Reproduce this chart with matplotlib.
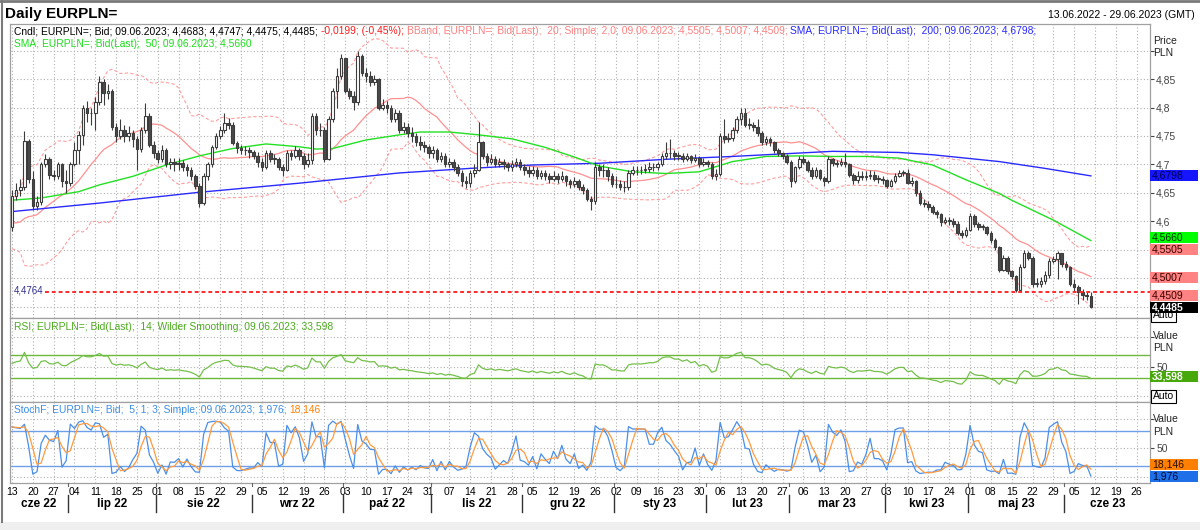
# Daily EURPLN= candles with BBand / SMA, RSI and StochF panels

import numpy as np
import pandas as pd
import matplotlib
matplotlib.use("Agg")
import matplotlib.pyplot as plt
from matplotlib.patches import Rectangle
from matplotlib.lines import Line2D
from matplotlib.transforms import blended_transform_factory

plt.rcParams['font.family'] = ['Liberation Sans', 'DejaVu Sans']

FW, FH = 1200, 530

# closes of the sessions just before 13.06.2022 (only feed the bands / RSI at the left edge)
pre_close = [4.640, 4.630, 4.620, 4.610, 4.600, 4.590, 4.580, 4.575, 4.570, 4.575,
             4.580, 4.575, 4.570, 4.580, 4.590, 4.600, 4.610, 4.600, 4.590]

# daily bars 13.06.2022 - 09.06.2023, one row per two weeks
close = [
    4.645, 4.655, 4.660, 4.742, 4.675,  4.627, 4.633, 4.700, 4.710, 4.682,
    4.680, 4.700, 4.670, 4.667, 4.700,  4.725, 4.752, 4.800, 4.790, 4.790,
    4.810, 4.845, 4.825, 4.830, 4.766,  4.750, 4.760, 4.750, 4.755, 4.745,
    4.727, 4.760, 4.785, 4.735, 4.720,  4.710, 4.725, 4.700, 4.705, 4.700,
    4.703, 4.695, 4.690, 4.680, 4.662,  4.632, 4.680, 4.700, 4.730, 4.750,
    4.760, 4.772, 4.770, 4.738, 4.728,  4.726, 4.725, 4.722, 4.715, 4.705,
    4.696, 4.720, 4.710, 4.710, 4.695,  4.690, 4.720, 4.715, 4.725, 4.715,
    4.700, 4.708, 4.785, 4.760, 4.760,  4.710, 4.780, 4.830, 4.855, 4.887,
    4.830, 4.820, 4.810, 4.890, 4.860,  4.855, 4.845, 4.850, 4.800, 4.805,
    4.800, 4.780, 4.790, 4.760, 4.765,  4.755, 4.750, 4.740, 4.735, 4.730,
    4.720, 4.725, 4.710, 4.715, 4.700,  4.705, 4.695, 4.685, 4.670, 4.668,
    4.685, 4.690, 4.740, 4.715, 4.705,  4.710, 4.700, 4.705, 4.700, 4.695,
    4.700, 4.705, 4.695, 4.690, 4.685,  4.690, 4.680, 4.685, 4.680, 4.675,
    4.680, 4.675, 4.680, 4.670, 4.665,  4.670, 4.660, 4.655, 4.640, 4.635,
    4.695, 4.690, 4.690, 4.680, 4.665,  4.665, 4.660, 4.660, 4.685, 4.690,
    4.690, 4.690, 4.692, 4.695, 4.695,  4.700, 4.715, 4.720, 4.720, 4.715,
    4.715, 4.710, 4.715, 4.708, 4.712,  4.700, 4.705, 4.700, 4.680, 4.684,
    4.750, 4.745, 4.747, 4.760, 4.780,  4.790, 4.770, 4.770, 4.765, 4.755,
    4.740, 4.745, 4.740, 4.726, 4.720,  4.715, 4.705, 4.670, 4.695, 4.710,
    4.705, 4.690, 4.680, 4.690, 4.676,  4.670, 4.710, 4.703, 4.700, 4.705,
    4.700, 4.682, 4.672, 4.680, 4.678,  4.680, 4.682, 4.675, 4.675, 4.672,
    4.662, 4.670, 4.680, 4.685, 4.685,  4.668, 4.670, 4.650, 4.632, 4.630,
    4.625, 4.617, 4.612, 4.598, 4.603,  4.600, 4.596, 4.580, 4.575, 4.585,
    4.610, 4.595, 4.590, 4.590, 4.580,  4.567, 4.555, 4.515, 4.535, 4.513,
    4.503, 4.479, 4.520, 4.545, 4.535,  4.490, 4.490, 4.495, 4.505, 4.530,
    4.533, 4.545, 4.525, 4.520, 4.490,  4.485, 4.476, 4.470, 4.4683, 4.4485,
]
high = [
    4.655, 4.668, 4.675, 4.758, 4.745,  4.688, 4.645, 4.705, 4.718, 4.713,
    4.690, 4.705, 4.702, 4.690, 4.705,  4.740, 4.758, 4.805, 4.812, 4.800,
    4.818, 4.855, 4.850, 4.842, 4.833,  4.772, 4.780, 4.770, 4.768, 4.760,
    4.750, 4.765, 4.808, 4.790, 4.742,  4.725, 4.735, 4.728, 4.712, 4.712,
    4.712, 4.708, 4.700, 4.695, 4.684,  4.668, 4.685, 4.705, 4.735, 4.755,
    4.768, 4.790, 4.782, 4.775, 4.742,  4.735, 4.732, 4.730, 4.725, 4.722,
    4.712, 4.725, 4.725, 4.718, 4.713,  4.700, 4.725, 4.726, 4.732, 4.728,
    4.720, 4.720, 4.790, 4.790, 4.772,  4.765, 4.785, 4.835, 4.870, 4.895,
    4.888, 4.835, 4.830, 4.900, 4.895,  4.870, 4.865, 4.858, 4.852, 4.815,
    4.812, 4.805, 4.798, 4.795, 4.775,  4.772, 4.765, 4.755, 4.750, 4.742,
    4.735, 4.732, 4.728, 4.722, 4.720,  4.712, 4.710, 4.700, 4.690, 4.680,
    4.690, 4.700, 4.775, 4.742, 4.720,  4.718, 4.715, 4.712, 4.710, 4.705,
    4.708, 4.712, 4.710, 4.700, 4.698,  4.698, 4.695, 4.690, 4.690, 4.685,
    4.688, 4.685, 4.688, 4.682, 4.675,  4.678, 4.675, 4.665, 4.658, 4.645,
    4.705, 4.700, 4.700, 4.695, 4.685,  4.680, 4.672, 4.670, 4.690, 4.698,
    4.698, 4.697, 4.700, 4.705, 4.702,  4.705, 4.720, 4.740, 4.745, 4.725,
    4.722, 4.720, 4.720, 4.716, 4.718,  4.714, 4.712, 4.708, 4.705, 4.692,
    4.755, 4.780, 4.755, 4.765, 4.785,  4.800, 4.800, 4.782, 4.775, 4.780,
    4.758, 4.750, 4.748, 4.742, 4.728,  4.722, 4.718, 4.708, 4.698, 4.715,
    4.715, 4.708, 4.695, 4.695, 4.692,  4.680, 4.715, 4.712, 4.708, 4.712,
    4.720, 4.702, 4.685, 4.688, 4.688,  4.688, 4.690, 4.688, 4.682, 4.680,
    4.675, 4.675, 4.685, 4.690, 4.690,  4.692, 4.678, 4.672, 4.655, 4.640,
    4.635, 4.628, 4.620, 4.615, 4.608,  4.608, 4.605, 4.600, 4.585, 4.590,
    4.615, 4.612, 4.598, 4.595, 4.592,  4.582, 4.570, 4.556, 4.540, 4.538,
    4.515, 4.505, 4.525, 4.550, 4.548,  4.538, 4.500, 4.502, 4.512, 4.535,
    4.538, 4.548, 4.545, 4.530, 4.522,  4.498, 4.488, 4.480, 4.478, 4.4747,
]
low = [
    4.583, 4.638, 4.645, 4.655, 4.668,  4.620, 4.620, 4.628, 4.695, 4.675,
    4.672, 4.675, 4.660, 4.649, 4.662,  4.697, 4.700, 4.735, 4.775, 4.770,
    4.760, 4.805, 4.805, 4.815, 4.760,  4.740, 4.745, 4.740, 4.742, 4.730,
    4.690, 4.722, 4.755, 4.730, 4.712,  4.703, 4.705, 4.695, 4.692, 4.688,
    4.690, 4.688, 4.680, 4.673, 4.657,  4.625, 4.628, 4.672, 4.695, 4.727,
    4.745, 4.755, 4.762, 4.735, 4.720,  4.718, 4.716, 4.712, 4.710, 4.695,
    4.688, 4.692, 4.705, 4.700, 4.690,  4.680, 4.688, 4.708, 4.712, 4.708,
    4.692, 4.695, 4.700, 4.752, 4.750,  4.705, 4.708, 4.775, 4.800, 4.850,
    4.825, 4.815, 4.795, 4.805, 4.855,  4.845, 4.838, 4.840, 4.795, 4.795,
    4.790, 4.775, 4.775, 4.755, 4.755,  4.748, 4.740, 4.732, 4.725, 4.722,
    4.712, 4.712, 4.705, 4.705, 4.695,  4.695, 4.688, 4.680, 4.662, 4.658,
    4.660, 4.678, 4.688, 4.710, 4.698,  4.700, 4.695, 4.695, 4.692, 4.688,
    4.688, 4.695, 4.690, 4.682, 4.678,  4.680, 4.675, 4.675, 4.672, 4.668,
    4.670, 4.668, 4.670, 4.662, 4.658,  4.660, 4.655, 4.648, 4.635, 4.620,
    4.630, 4.680, 4.678, 4.670, 4.660,  4.658, 4.655, 4.652, 4.655, 4.682,
    4.682, 4.684, 4.685, 4.686, 4.688,  4.690, 4.698, 4.710, 4.712, 4.708,
    4.708, 4.705, 4.706, 4.702, 4.704,  4.695, 4.697, 4.695, 4.675, 4.672,
    4.680, 4.738, 4.740, 4.742, 4.755,  4.770, 4.765, 4.762, 4.758, 4.750,
    4.735, 4.735, 4.733, 4.720, 4.714,  4.710, 4.700, 4.660, 4.668, 4.692,
    4.700, 4.686, 4.675, 4.676, 4.672,  4.662, 4.668, 4.698, 4.695, 4.697,
    4.695, 4.678, 4.666, 4.668, 4.672,  4.672, 4.674, 4.670, 4.668, 4.665,
    4.658, 4.660, 4.668, 4.678, 4.680,  4.665, 4.662, 4.645, 4.628, 4.625,
    4.620, 4.612, 4.606, 4.592, 4.595,  4.594, 4.590, 4.575, 4.570, 4.572,
    4.583, 4.590, 4.584, 4.585, 4.575,  4.562, 4.550, 4.510, 4.512, 4.508,
    4.498, 4.475, 4.477, 4.518, 4.532,  4.484, 4.484, 4.485, 4.490, 4.500,
    4.527, 4.498, 4.520, 4.515, 4.486,  4.478, 4.455, 4.462, 4.462, 4.4475,
]

# moving averages (session index, value)
sma50_at = [0, 7, 16, 21, 29, 37, 45, 53, 61, 69, 73, 77, 85, 93, 98, 105, 112, 120,
            128, 135, 141, 149, 157, 165, 173, 181, 189, 197, 205, 213, 221, 229, 237,
            240, 250, 259]
sma50 = [4.637, 4.641, 4.652, 4.664, 4.679, 4.699, 4.715, 4.728, 4.736, 4.731, 4.727,
         4.728, 4.743, 4.752, 4.757, 4.757, 4.752, 4.745, 4.730, 4.713, 4.697, 4.687,
         4.684, 4.687, 4.705, 4.714, 4.715, 4.714, 4.714, 4.711, 4.699, 4.673, 4.649,
         4.637, 4.602, 4.566]
sma200_at = [0, 21, 45, 69, 93, 110, 125, 141, 157, 173, 189, 197, 213, 221, 237, 248, 259]
sma200 = [4.617, 4.632, 4.651, 4.667, 4.685, 4.693, 4.699, 4.702, 4.709, 4.714, 4.720,
          4.723, 4.721, 4.717, 4.705, 4.693, 4.6798]

hline_level = 4.4764

# last values shown in the legends and value boxes
last_close = 4.4485
last_bb = [4.5505, 4.5007, 4.4509]
last_sma50 = 4.5660
last_sma200 = 4.6798
last_rsi = 33.598
last_k = 1.976
last_d = 18.146

month_names = ["sty", "lut", "mar", "kwi", "maj", "cze", "lip", "sie", "wrz", "paź", "lis", "gru"]

dates = pd.bdate_range("2022-06-13", "2023-06-29")

# ---------------- indicators ----------------
c = np.array(close)
h = np.array(high)
l = np.array(low)
o = np.r_[pre_close[-1], c[:-1]]
x = np.arange(len(c))
n_pre = len(pre_close)

c_all = pd.Series(pre_close + close)
bb_mid = c_all.rolling(20).mean().to_numpy()[n_pre:]
bb_sd = c_all.rolling(20).std(ddof=0).to_numpy()[n_pre:]
bb_up = bb_mid + 2 * bb_sd
bb_lo = bb_mid - 2 * bb_sd

ch = np.diff(c_all.to_numpy())
gain = np.clip(ch, 0, None)
loss = np.clip(-ch, 0, None)
ag, al = gain[:14].mean(), loss[:14].mean()
rsi_full = np.full(len(c_all), np.nan)
for k in range(14, len(ch)):
    ag = (ag * 13 + gain[k]) / 14
    al = (al * 13 + loss[k]) / 14
    rsi_full[k + 1] = 100 - 100 / (1 + ag / al)
rsi = rsi_full[n_pre:]

hh = pd.Series(h).rolling(5, min_periods=1).max().to_numpy()
ll = pd.Series(l).rolling(5, min_periods=1).min().to_numpy()
stk = 100 * (c - ll) / (hh - ll)
std_ = pd.Series(stk).rolling(3, min_periods=1).mean().to_numpy()

# ---------------- figure ----------------
fig = plt.figure(figsize=(FW / 100, FH / 100), dpi=100)
fig.patch.set_facecolor("white")


def rect_px(x0, y0, x1, y1):
    return [x0 / FW, 1 - y1 / FH, (x1 - x0) / FW, (y1 - y0) / FH]


ax = fig.add_axes(rect_px(10, 24, 1150, 318))
ax_rsi = fig.add_axes(rect_px(10, 318, 1150, 402))
ax_st = fig.add_axes(rect_px(10, 402, 1150, 483))

GRID = "#b0b0b0"
FRAME = "#a0a0a0"
mondays = [i for i, d in enumerate(dates) if d.weekday() == 0]

for a in (ax, ax_rsi, ax_st):
    a.set_xlim(-0.48, 273.2)
    for s in a.spines.values():
        s.set_color(FRAME)
        s.set_linewidth(0.9)
    a.yaxis.tick_right()
    a.set_xticks(mondays)
    a.tick_params(axis="x", length=0, labelbottom=False)
    a.tick_params(axis="y", direction="out", length=3, width=0.8, colors="#444444",
                  labelsize=7.5, pad=1.5)
    a.grid(True, linestyle=(0, (1, 2)), color=GRID, linewidth=0.8)
    a.set_axisbelow(True)

# main panel; 4,45 / 4,5 / 4,55 sit under the value boxes, 4,9 under "PLN"
ax.set_ylim(4.4298, 4.947)
yt = [4.45, 4.5, 4.55, 4.6, 4.65, 4.7, 4.75, 4.8, 4.85, 4.9]
ax.set_yticks(yt)
ax.set_yticklabels([("%g" % v).replace(".", ",") if 4.58 < v < 4.88 else "" for v in yt])

ax.plot(x, bb_up, color="#ff9e9e", lw=0.8, ls=(0, (3, 2)), zorder=2)
ax.plot(x, bb_lo, color="#ff9e9e", lw=0.8, ls=(0, (3, 2)), zorder=2)
ax.plot(x, bb_mid, color="#ff9090", lw=0.9, zorder=2)
ax.plot(sma200_at, sma200, color="#2a2aff", lw=1.0, zorder=2)
ax.plot(sma50_at, sma50, color="#22e022", lw=1.0, zorder=2)

ax.vlines(x, l, h, color="#3c3c3c", lw=0.8, zorder=3)
up = c >= o
body = np.maximum(np.abs(c - o), 0.0009)
ax.bar(x[up], body[up], bottom=np.minimum(o, c)[up], width=0.62, facecolor="white",
       edgecolor="#3c3c3c", lw=0.8, zorder=4)
ax.bar(x[~up], body[~up], bottom=np.minimum(o, c)[~up], width=0.62, facecolor="#4a4a4a",
       edgecolor="#3c3c3c", lw=0.8, zorder=4)

ax.axhline(hline_level, xmin=0.031, color="#ff2a2a", lw=1.4, ls=(0, (2, 1.5)), zorder=5)

# RSI panel
ax_rsi.set_ylim(-10, 132.5)
ax_rsi.set_yticks([0, 50, 100])
ax_rsi.set_yticklabels(["", "50", ""])
ax_rsi.axhline(70, color="#6cb83c", lw=1.0, zorder=2)
ax_rsi.axhline(30, color="#6cb83c", lw=1.0, zorder=2)
ax_rsi.plot(x, rsi, color="#74c04a", lw=0.9, zorder=3)

# StochF panel
ax_st.set_ylim(-10, 129)
ax_st.set_yticks([0, 50, 100])
ax_st.set_yticklabels(["", "50", ""])
ax_st.axhline(80, color="#6f9fe6", lw=1.0, zorder=2)
ax_st.axhline(20, color="#6f9fe6", lw=1.0, zorder=2)
ax_st.plot(x, stk, color="#4a8fe8", lw=0.9, zorder=3)
ax_st.plot(x, std_, color="#ff9a40", lw=0.9, zorder=4)

# day labels (Mondays)
ax_st.set_xticklabels(["%02d" % dates[i].day for i in mondays])
ax_st.tick_params(axis="x", labelbottom=True, labelsize=7.5, pad=3, colors="black")

# month labels and separators
tb = blended_transform_factory(ax_st.transData, fig.transFigure)
month_id = dates.year * 12 + dates.month
starts = [0] + [i for i in range(1, len(dates)) if month_id[i] != month_id[i - 1]]
ends = starts[1:] + [len(dates)]
for s0, e0 in zip(starts, ends):
    d = dates[s0]
    lab = "%s %02d" % (month_names[d.month - 1], d.year % 100)
    fig.text(0, 1 - 504 / FH, lab, transform=tb, fontsize=8.5, fontweight="bold",
             ha="center", va="center").set_x((s0 + e0 - 1) / 2)
    if s0 > 0:
        fig.add_artist(Line2D([s0 - 0.5, s0 - 0.5], [1 - 495 / FH, 1 - 512 / FH],
                              transform=tb, color="#333333", lw=1.0))
        fig.add_artist(Line2D([s0 - 0.5, s0 - 0.5], [1 - 483 / FH, 1 - 486 / FH],
                              transform=tb, color="#666666", lw=0.8))


# ---------------- texts ----------------
def fy(y_px):
    return 1 - y_px / FH


def text_run(y_px, parts, x_px=14, size=7.4):
    r = fig.canvas.get_renderer()
    xx = x_px
    for s, col in parts:
        t = fig.text(xx / FW, fy(y_px), s, color=col, fontsize=size, va="center", ha="left")
        xx += t.get_window_extent(r).width + 3


fig.text(5 / FW, fy(14), "Daily EURPLN=", fontsize=11, fontweight="bold", va="center")
fig.text(1195 / FW, fy(15), "13.06.2022 - 29.06.2023 (GMT)", fontsize=7.5, va="center",
         ha="right")

text_run(31, [("Cndl; EURPLN=; Bid; 09.06.2023; 4,4683; 4,4747; 4,4475; 4,4485;", "black"),
              ("-0,0199; (-0,45%);", "#ff1a1a"),
              ("BBand; EURPLN=; Bid(Last);  20; Simple; 2,0; 09.06.2023; 4,5505; 4,5007; 4,4509;",
               "#ff8080"),
              ("SMA; EURPLN=; Bid(Last);  200; 09.06.2023; 4,6798;", "#2a2aff")])
text_run(44, [("SMA; EURPLN=; Bid(Last);  50; 09.06.2023; 4,5660", "#1adf1a")])
text_run(327, [("RSI; EURPLN=; Bid(Last);  14; Wilder Smoothing; 09.06.2023; 33,598", "#4cab1e")])
text_run(410, [("StochF; EURPLN=; Bid;  5; 1; 3; Simple; 09.06.2023; 1,976;", "#3a8ee6"),
               ("18,146", "#ff8000")])

fig.text(14 / FW, fy(290.5), "4,4764", fontsize=7, color="#303090", va="center")

for yy, s in [(41, "Price"), (53, "PLN"), (336, "Value"), (348, "PLN"), (419, "Value"),
              (432, "PLN")]:
    fig.text(1153 / FW, fy(yy), s, fontsize=7.5, va="center", color="#222222")


def to_px(a, v):
    return FH - a.transData.transform((0, v))[1]


def value_box(yc, s, bg, fg, z=2.0, bold=False):
    fig.add_artist(Rectangle((1150 / FW, fy(yc + 5.5)), 48 / FW, 11 / FH,
                             transform=fig.transFigure, facecolor=bg, edgecolor="none",
                             zorder=z))
    fig.text(1152 / FW, fy(yc), s, fontsize=7.5, color=fg, va="center", ha="left",
             zorder=z + 0.5, fontweight="bold" if bold else "normal")


def auto_box(yc):
    fig.text(1153 / FW, fy(yc), "Auto", fontsize=7.5, va="center", ha="left", zorder=1.2,
             bbox=dict(boxstyle="square,pad=0.15", facecolor="white", edgecolor="black", lw=0.8))


def fmt(v, nd):
    return ("%.*f" % (nd, v)).replace(".", ",")


def stacked(a, items, gap=12):
    items = sorted(items, key=lambda it: it[0])
    prev = None
    out = []
    for v, bg, fg, nd, bold in items:
        yc = to_px(a, v)
        if prev is not None:
            yc = min(yc, prev - gap)
        out.append((yc, fmt(v, nd), bg, fg, bold))
        prev = yc
    return out


auto_box(315)
auto_box(to_px(ax_rsi, 0))

main_items = [(last_sma200, "#1515ff", "#00004a", 4, False),
              (last_sma50, "#00ff00", "#003000", 4, False),
              (last_bb[0], "#ff8383", "#3a0000", 4, False),
              (last_bb[1], "#ff8383", "#3a0000", 4, False),
              (last_bb[2], "#ff8383", "#3a0000", 4, False),
              (last_close, "black", "white", 4, True)]
for yc, s, bg, fg, bold in stacked(ax, main_items):
    value_box(yc, s, bg, fg, bold=bold)

value_box(to_px(ax_rsi, last_rsi), fmt(last_rsi, 3), "#46a80a", "white", bold=True)
for yc, s, bg, fg, bold in stacked(ax_st, [(last_k, "#1f6fe8", "#000a30", 3, False),
                                            (last_d, "#ff7f00", "#2a1000", 3, False)]):
    value_box(yc, s, bg, fg, bold=bold)

# window frame bits
fig.add_artist(Line2D([0, 1], [1 - 1 / FH, 1 - 1 / FH], transform=fig.transFigure,
                      color="#7a7a7a", lw=2))
fig.add_artist(Line2D([1.5 / FW, 1.5 / FW], [1 - 522 / FH, 1], transform=fig.transFigure,
                      color="#7a7a7a", lw=1.5))
fig.add_artist(Rectangle((0, 0), 1, 8 / FH, transform=fig.transFigure, facecolor="#efefef",
                         edgecolor="none"))

fig.savefig("out.png", dpi=100, facecolor="white")
print("Saved image to out.png")
